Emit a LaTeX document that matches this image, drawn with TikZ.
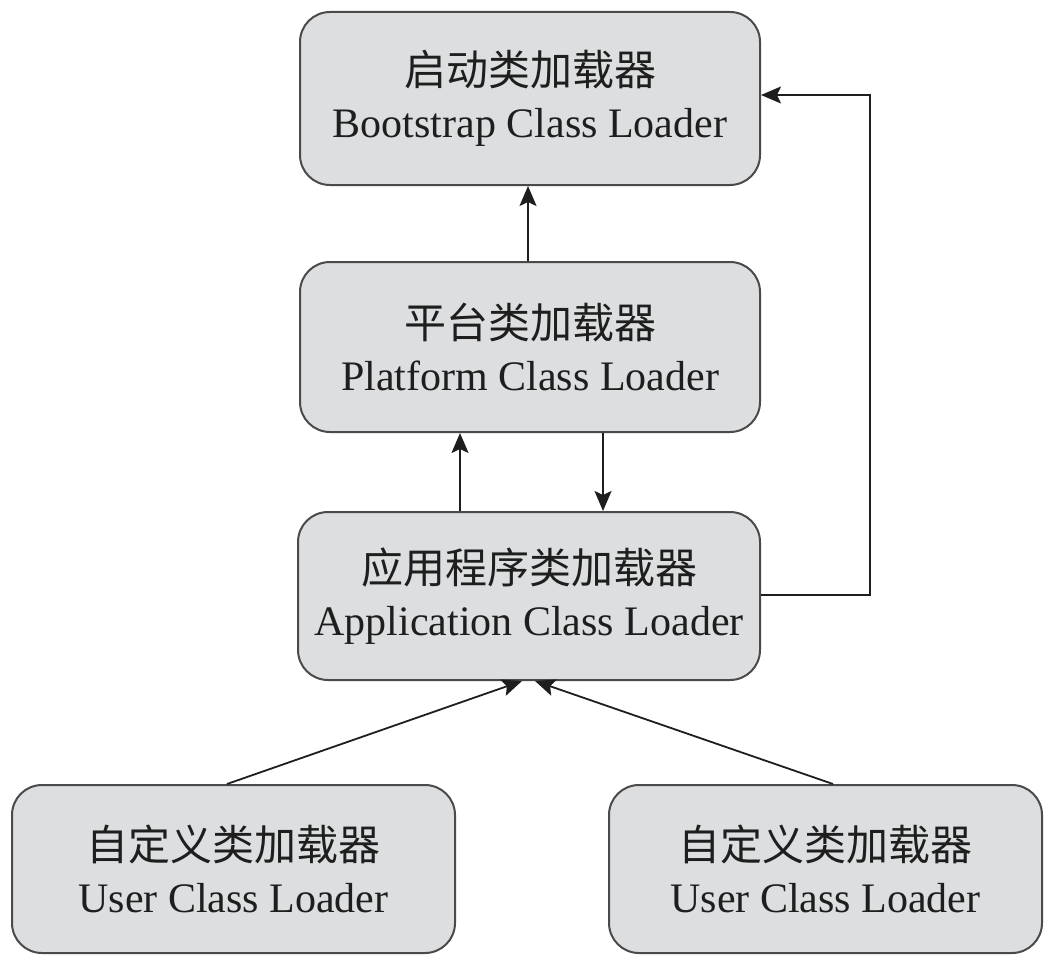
\documentclass[tikz,border=0pt]{standalone}
\usepackage{fontspec}
\setmainfont{Liberation Serif}
\newfontfamily\cjk{Noto Sans CJK SC}
\usetikzlibrary{arrows.meta}
\definecolor{boxfill}{HTML}{DCDEDF}
\definecolor{boxline}{HTML}{4A4A4A}
\definecolor{txt}{HTML}{1E1E1E}
\begin{document}
\begin{tikzpicture}[x=1pt,y=1pt,
  loader/.style={draw=boxline, line width=2pt, fill=boxfill, rounded corners=30pt,
    minimum width=#1, minimum height=170pt, inner sep=0pt, align=center,
    text=txt, font=\fontsize{42}{52}\selectfont},
  loader/.default=460pt,
  link/.style={draw=txt, line width=1.8pt,
    -{Stealth[length=20pt,width=17pt,inset=4pt]}}
]
\useasboundingbox (0,0) rectangle (1046,-955);
\node[loader=460pt, minimum height=173pt] (boot) at (530,-98.5) {{\cjk 启动类加载器}\\Bootstrap Class Loader};
\node[loader=460pt] (plat) at (530,-347) {{\cjk 平台类加载器}\\Platform Class Loader};
\node[loader=462pt, minimum height=168pt] (app) at (529,-596) {{\cjk 应用程序类加载器}\\Application Class Loader};
\node[loader=443pt, minimum height=168pt] (user1) at (233.5,-869) {{\cjk 自定义类加载器}\\User Class Loader};
\node[loader=433pt, minimum height=168pt] (user2) at (825.5,-869) {{\cjk 自定义类加载器}\\User Class Loader};

\draw[link] (plat.north -| 528,0) -- (boot.south -| 528,0);
\draw[link] (app.north -| 460,0) -- (plat.south -| 460,0);
\draw[link] (plat.south -| 603,0) -- (app.north -| 603,0);
\coordinate (rb) at (870,-595);
\coordinate (rt) at (870,-95);
\draw[link] (app.east |- rb) -- (rb) -- (rt) -- (boot.east |- rt);
\draw[link] (user1.north -| 227,0) -- (app.south -| 522,0);
\draw[link] (user2.north -| 833,0) -- (app.south -| 535,0);
\end{tikzpicture}
\end{document}
